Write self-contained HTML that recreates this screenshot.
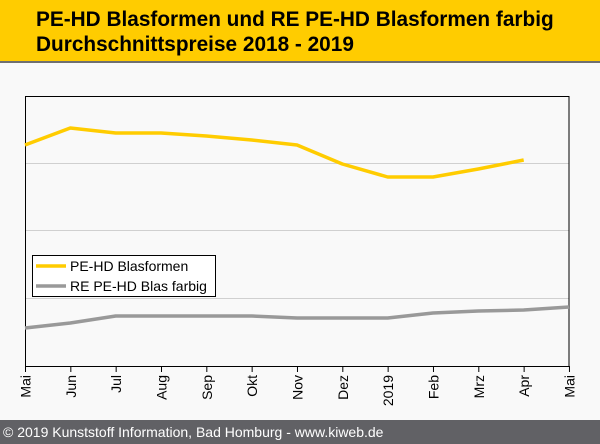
<!DOCTYPE html><html><head><style>
body{margin:0;width:600px;height:444px;background:#f9f9f9;font-family:"Liberation Sans",Arial,sans-serif;position:relative;overflow:hidden}
#h{position:absolute;left:0;top:0;width:600px;height:61px;background:#ffcc00;border-bottom:2px solid #707070}
#h div{position:absolute;left:36px;top:7px;font-weight:bold;font-size:20.8px;line-height:25px;color:#000}
#f{position:absolute;left:0;top:420px;width:600px;height:24px;background:#616165;color:#fff;font-size:14px;line-height:24px;padding-left:3px;box-sizing:border-box}
</style></head><body>
<div id="h"><div>PE-HD Blasformen und RE PE-HD Blasformen farbig<br>Durchschnittspreise 2018 - 2019</div></div>
<svg width="600" height="444" style="position:absolute;left:0;top:0">
<g stroke="#d0d0d0" stroke-width="1"><line x1="25" y1="163.5" x2="569" y2="163.5"/><line x1="25" y1="230.5" x2="569" y2="230.5"/><line x1="25" y1="298.5" x2="569" y2="298.5"/></g>
<rect x="25.5" y="96.5" width="543.5" height="270" fill="none" stroke="#000"/>
<polyline fill="none" stroke="#ffcc00" stroke-width="3.5" stroke-linejoin="round" points="25,145 70.3,128 115.7,133 161,133 206.3,136 251.7,140 297,145 342.3,164 387.7,177 433,177 478.3,169 523.7,160"/>
<polyline fill="none" stroke="#999" stroke-width="3.5" stroke-linejoin="round" points="25,328 70.3,323 115.7,316 161,316 206.3,316 251.7,316 297,318 342.3,318 387.7,318 433,313 478.3,311 523.7,310 569,307"/>
<rect x="32.5" y="255.5" width="183" height="41" fill="#fff" stroke="#000"/>
<line x1="36" y1="266" x2="66" y2="266" stroke="#ffcc00" stroke-width="3.5"/>
<line x1="36" y1="286" x2="66" y2="286" stroke="#999" stroke-width="3.5"/>
<text x="70" y="271" font-size="14" font-family="Liberation Sans,sans-serif">PE-HD Blasformen</text>
<text x="70" y="291" font-size="14" font-family="Liberation Sans,sans-serif">RE PE-HD Blas farbig</text>
<g stroke="#000" id="t"></g>
<g font-size="14" font-family="Liberation Sans,sans-serif" id="l"></g>
</svg>
<script>
var m=["Mai","Jun","Jul","Aug","Sep","Okt","Nov","Dez","2019","Feb","Mrz","Apr","Mai"],t=document.getElementById("t"),l=document.getElementById("l"),ns="http://www.w3.org/2000/svg";
m.forEach(function(s,i){var x=25.5+i*45.33;var ln=document.createElementNS(ns,"line");ln.setAttribute("x1",x);ln.setAttribute("x2",x);ln.setAttribute("y1",366);ln.setAttribute("y2",372);t.appendChild(ln);
var tx=document.createElementNS(ns,"text");tx.setAttribute("transform","translate("+(x+5)+",375) rotate(-90)");tx.setAttribute("text-anchor","end");tx.textContent=s;l.appendChild(tx);});
</script>
<div id="f">© 2019 Kunststoff Information, Bad Homburg - www.kiweb.de</div>
</body></html>
